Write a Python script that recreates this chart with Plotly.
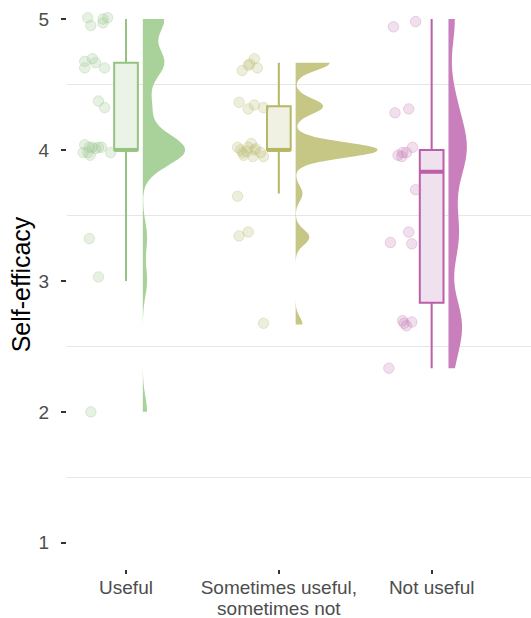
import numpy as np
import plotly.graph_objects as go

label_lines = [["Useful"], ["Sometimes useful,", "sometimes not"], ["Not useful"]]
positions = [1, 2, 3]

useful = [5, 5, 5, 5, 5,
          14/3, 14/3, 14/3, 14/3, 14/3,
          13/3, 13/3,
          4, 4, 4, 4, 4, 4, 4, 4, 4, 4,
          10/3, 3, 2]
useful_xjit = [-0.25, -0.23, -0.15, -0.15, -0.12,
               -0.27, -0.27, -0.22, -0.20, -0.14,
               -0.18, -0.14,
               -0.27, -0.28, -0.24, -0.235, -0.22, -0.20, -0.18, -0.16, -0.10, -0.25,
               -0.24, -0.18, -0.23]
useful_yjit = [0.01, -0.05, -0.03, 0.0, 0.01,
               0.01, -0.04, 0.03, 0.0, -0.04,
               0.04, -0.01,
               0.04, -0.02, 0.02, -0.04, 0.02, 0.01, 0.02, 0.02, -0.02, -0.02,
               -0.01, 0.03, 0.0]

sometimes = [14/3, 14/3, 14/3, 14/3, 14/3,
             13/3, 13/3, 13/3, 13/3,
             4, 4, 4, 4, 4, 4, 4, 4, 4, 4, 4, 4,
             11/3, 10/3, 10/3, 8/3]
sometimes_xjit = [-0.24, -0.20, -0.19, -0.16, -0.14,
                  -0.26, -0.20, -0.16, -0.10,
                  -0.27, -0.25, -0.235, -0.23, -0.20, -0.18, -0.17, -0.16, -0.15, -0.12, -0.10, -0.21,
                  -0.27, -0.26, -0.20, -0.10]
sometimes_yjit = [-0.06, -0.02, -0.01, 0.03, -0.04,
                  0.03, -0.02, 0.01, -0.01,
                  0.02, 0.0, -0.02, -0.04, 0.02, 0.05, -0.05, 0.0, 0.01, -0.02, -0.05, -0.01,
                  -0.02, 0.01, 0.04, 0.01]

not_useful = [5, 5,
              13/3, 13/3,
              4, 4, 4, 4, 4,
              11/3,
              10/3, 10/3, 10/3,
              8/3, 8/3, 8/3, 8/3,
              7/3]
not_useful_xjit = [-0.25, -0.105,
                   -0.24, -0.15,
                   -0.22, -0.19, -0.195, -0.165, -0.125,
                   -0.105,
                   -0.27, -0.15, -0.13,
                   -0.19, -0.165, -0.13, -0.18,
                   -0.28]
not_useful_yjit = [-0.06, -0.02,
                   -0.05, -0.02,
                   -0.04, -0.02, -0.05, -0.02, 0.02,
                   0.03,
                   -0.04, 0.04, -0.05,
                   0.03, -0.01, 0.02, 0.01,
                   0.0]

groups = [useful, sometimes, not_useful]
xjitters = [useful_xjit, sometimes_xjit, not_useful_xjit]
yjitters = [useful_yjit, sometimes_yjit, not_useful_yjit]

violin_colors = ["#a9d19a", "#c6c685", "#c97fbb"]
line_colors = ["#94c47f", "#b7b763", "#bb5fa8"]
box_fills = ["#ebf3e6", "#f1f1e3", "#f0e1ee"]
point_rgb = [(160, 200, 145), (190, 190, 120), (200, 130, 185)]
violin_widths = [0.55, 1.07, 0.24]
bw_adjust = 0.5

y_ticks = [1, 2, 3, 4, 5]
y_minor = [1.5, 2.5, 3.5, 4.5]


def nrd0(v):
    v = np.asarray(v, dtype=float)
    sd = np.std(v, ddof=1)
    iqr = np.subtract(*np.percentile(v, [75, 25]))
    lo = min(sd, iqr / 1.34)
    return 0.9 * lo * len(v) ** -0.2


def box_stats(v):
    # same as ggplot2 stat_boxplot (quantile type 7, 1.5 IQR whiskers)
    v = np.asarray(v, dtype=float)
    q1, med, q3 = np.percentile(v, [25, 50, 75])
    iqr = q3 - q1
    lo = v[v >= q1 - 1.5 * iqr - 1e-9].min()
    hi = v[v <= q3 + 1.5 * iqr + 1e-9].max()
    return q1, med, q3, lo, hi


tick_text = ["<br>".join(f"<span style='font-size:19px'>{ln}</span>" for ln in lines)
             for lines in label_lines]

fig = go.Figure()
for i, (vals, xj, yj, pos) in enumerate(zip(groups, xjitters, yjitters, positions)):
    r, g, b = point_rgb[i]
    fig.add_trace(go.Violin(
        y=vals, x0=pos + 0.11, side="positive", width=violin_widths[i],
        scalemode="width", spanmode="hard", bandwidth=bw_adjust * nrd0(vals),
        points=False, box_visible=False, meanline_visible=False,
        fillcolor=violin_colors[i], line=dict(width=0, color=violin_colors[i]),
        opacity=1, showlegend=False, hoverinfo="skip"))
    q1, med, q3, lo, hi = box_stats(vals)
    fig.add_trace(go.Box(
        x=[pos], q1=[q1], median=[med], q3=[q3], lowerfence=[lo], upperfence=[hi],
        width=0.155, whiskerwidth=0, fillcolor=box_fills[i],
        line=dict(color=line_colors[i], width=2),
        showlegend=False, hoverinfo="skip"))
    fig.add_trace(go.Scatter(
        x=[pos - 0.0775, pos + 0.0775], y=[med, med], mode="lines",
        line=dict(color=line_colors[i], width=4),
        showlegend=False, hoverinfo="skip"))
    fig.add_trace(go.Scatter(
        x=[pos + j for j in xj], y=[v + d for v, d in zip(vals, yj)], mode="markers",
        marker=dict(size=10.5, color=f"rgba({r},{g},{b},0.26)",
                    line=dict(color=f"rgba({r},{g},{b},0.32)", width=1)),
        showlegend=False, hoverinfo="skip"))

fig.update_layout(
    width=531, height=618,
    margin=dict(l=67, r=0, t=0, b=49),
    plot_bgcolor="white", paper_bgcolor="white",
    boxmode="overlay", violinmode="overlay",
    font=dict(family="Liberation Sans, Arial, sans-serif"),
    xaxis=dict(
        range=[0.614, 3.65], tickmode="array", tickvals=positions, ticktext=tick_text,
        showgrid=False, zeroline=False, showline=False, automargin=False,
        ticks="outside", ticklen=4, tickwidth=1.5, tickcolor="#333333",
        ticklabelstandoff=0,
        tickfont=dict(size=16.5, color="#4d4d4d")),
    yaxis=dict(
        range=[0.8, 5.145], tickmode="array", tickvals=y_ticks,
        showgrid=False, zeroline=False, showline=False, automargin=False,
        ticks="outside", ticklen=5, tickwidth=1.5, tickcolor="#333333",
        ticklabelstandoff=8,
        tickfont=dict(size=19, color="#4d4d4d"),
        minor=dict(tickmode="array", tickvals=y_minor, showgrid=True,
                   gridcolor="#e6e6e6", gridwidth=1),
        title=dict(text="Self-efficacy", font=dict(size=25, color="black"), standoff=0)),
)

fig.write_html("out.html")
